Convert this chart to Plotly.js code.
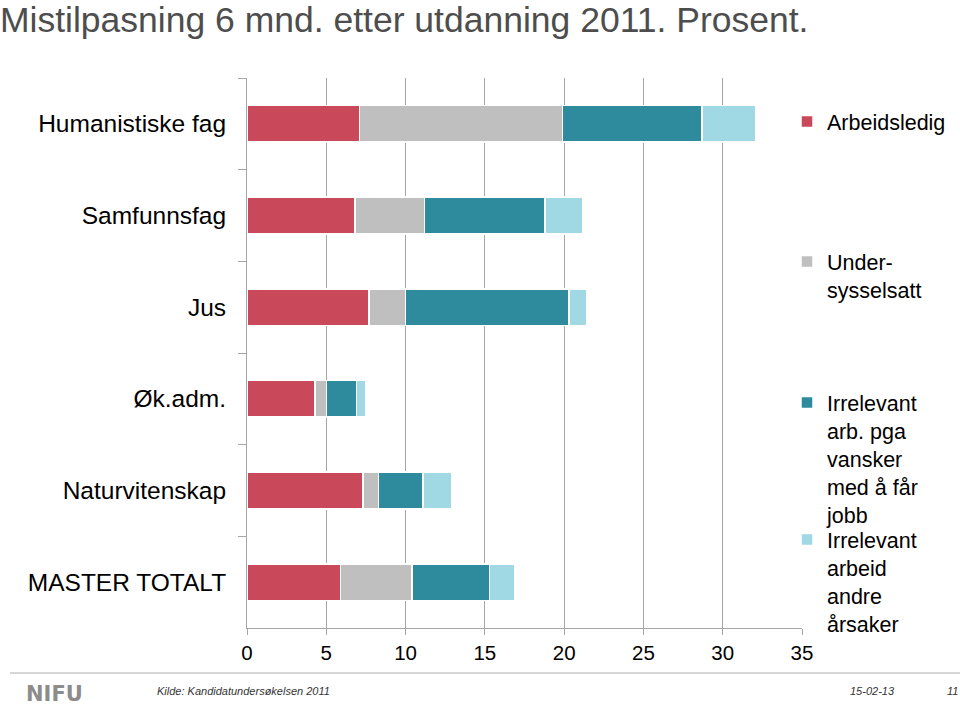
<!DOCTYPE html>
<html>
<head>
<meta charset="utf-8">
<script src="https://cdn.plot.ly/plotly-3.0.1.min.js"></script>
<style>html,body{margin:0;padding:0;background:#fff;}#chart{width:960px;height:708px;}</style>
</head>
<body>
<div id="chart"></div>
<script>
const categories = ["Humanistiske fag", "Samfunnsfag", "Jus", "Øk.adm.", "Naturvitenskap", "MASTER TOTALT"];
const arbeidsledig = [7.1, 6.8, 7.7, 4.3, 7.3, 5.9];
const undersysselsatt = [12.8, 4.4, 2.3, 0.7, 1.0, 4.5];
const irrelevantVansker = [8.8, 7.6, 10.3, 1.9, 2.8, 4.9];
const irrelevantAndre = [3.4, 2.4, 1.1, 0.6, 1.8, 1.6];
const seriesNames = ["Arbeidsledig", "Under-<br>sysselsatt", "Irrelevant<br>arb. pga<br>vansker<br>med å får<br>jobb", "Irrelevant<br>arbeid<br>andre<br>årsaker"];
const xTicks = [0, 5, 10, 15, 20, 25, 30, 35];

const colors = ["#c9495a", "#bfbfbf", "#2e8b9d", "#a0d8e4"];
const legendIds = ["legend", "legend2", "legend3", "legend4"];
const seriesValues = [arbeidsledig, undersysselsatt, irrelevantVansker, irrelevantAndre];

const FONT = "Liberation Sans, Arial, sans-serif";

const traces = seriesValues.map((vals, i) => ({
  type: "bar",
  orientation: "h",
  y: categories,
  x: vals,
  name: seriesNames[i],
  legend: legendIds[i],
  showlegend: true,
  marker: {color: colors[i], line: {color: "#ffffff", width: 1.5}},
  hoverinfo: "x+name"
}));

function legendAt(topPx) {
  return {
    xref: "container", yref: "container",
    x: 787 / 960, y: 1 - topPx / 708,
    xanchor: "left", yanchor: "top",
    valign: "top",
    bgcolor: "rgba(0,0,0,0)",
    borderwidth: 0,
    font: {family: FONT, size: 21.5, color: "#000"},
    tracegroupgap: 0
  };
}

const layout = {
  width: 960, height: 708,
  paper_bgcolor: "#ffffff", plot_bgcolor: "#ffffff",
  margin: {l: 247, r: 158, t: 78, b: 80, autoexpand: false},
  showlegend: true,
  barmode: "stack",
  bargap: 0.6,
  font: {family: FONT, color: "#000"},
  title: {
    text: "Mistilpasning 6 mnd. etter utdanning 2011. Prosent.",
    x: 0, xref: "container", xanchor: "left",
    y: 1 - 20 / 708, yref: "container", yanchor: "middle",
    pad: {l: 0, t: 0},
    font: {family: FONT, size: 35.5, color: "#4d4d4d"}
  },
  xaxis: {
    range: [0, 35],
    tickvals: xTicks,
    ticktext: xTicks.map(String),
    showgrid: true, gridcolor: "#a6a6a6", gridwidth: 1,
    zeroline: false,
    showline: true, linecolor: "#a6a6a6", linewidth: 1,
    ticks: "outside", ticklen: 6, tickcolor: "#a6a6a6",
    tickfont: {family: FONT, size: 20.5, color: "#000"},
    automargin: false,
    fixedrange: true
  },
  yaxis: {
    type: "category",
    autorange: "reversed",
    showgrid: false,
    zeroline: false,
    showline: true, linecolor: "#a6a6a6", linewidth: 1,
    ticks: "outside", ticklen: 8, tickcolor: "#a6a6a6",
    tickson: "boundaries",
    ticklabelstandoff: 15,
    tickfont: {family: FONT, size: 24.5, color: "#000"},
    automargin: false,
    fixedrange: true
  },
  legend: legendAt(101),
  legend2: legendAt(241),
  legend3: legendAt(382),
  legend4: legendAt(519),
  shapes: [{
    type: "line", xref: "paper", yref: "paper",
    x0: (10 - 247) / 555, x1: (960 - 247) / 555,
    y0: (628 - 673) / 550, y1: (628 - 673) / 550,
    line: {color: "#c8c8c8", width: 1.5}
  }],
  annotations: [
    {text: "NIFU", xref: "paper", yref: "paper", x: (24 - 247) / 555, y: (628 - 694) / 550,
     xanchor: "left", yanchor: "middle", showarrow: false,
     font: {family: "DejaVu Sans, Arial, sans-serif", size: 21, color: "#8c8c8c", weight: 600}},
    {text: "<i>Kilde: Kandidatundersøkelsen 2011</i>", xref: "paper", yref: "paper", x: (155 - 247) / 555, y: (628 - 691) / 550,
     xanchor: "left", yanchor: "middle", showarrow: false,
     font: {family: FONT, size: 11, color: "#333"}},
    {text: "<i>15-02-13</i>", xref: "paper", yref: "paper", x: (848 - 247) / 555, y: (628 - 691) / 550,
     xanchor: "left", yanchor: "middle", showarrow: false,
     font: {family: FONT, size: 11, color: "#333"}},
    {text: "<i>11</i>", xref: "paper", yref: "paper", x: (945 - 247) / 555, y: (628 - 691) / 550,
     xanchor: "left", yanchor: "middle", showarrow: false,
     font: {family: FONT, size: 11, color: "#333"}}
  ]
};

Plotly.newPlot("chart", traces, layout, {displayModeBar: false, staticPlot: true});
</script>
</body>
</html>
